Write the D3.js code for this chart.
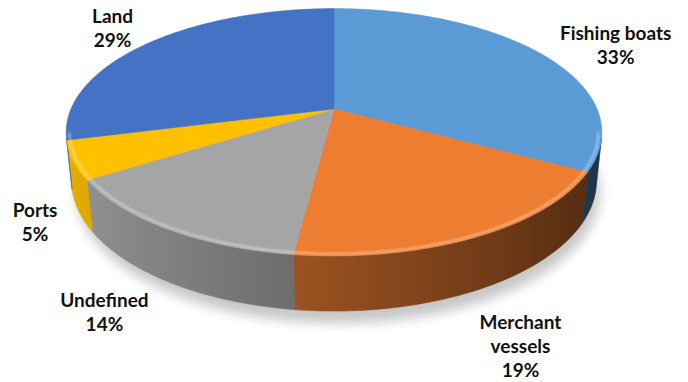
<!DOCTYPE html>
<html>
<head>
<meta charset="utf-8">
<script src="https://cdn.jsdelivr.net/npm/d3@7"></script>
<style>
  html, body { margin: 0; padding: 0; background: #ffffff; }
  svg { display: block; }
</style>
</head>
<body>
<svg id="chart" width="688" height="382"></svg>
<script>
// Incident locations by share of total
const categories = ["Fishing boats", "Merchant vessels", "Undefined", "Ports", "Land"];
const shares = [33, 19, 14, 5, 29];
const colors = ["#5B9BD5", "#ED7D31", "#A5A5A5", "#FFC000", "#4472C4"];
const labelLines = [["Fishing boats"], ["Merchant", "vessels"], ["Undefined"], ["Ports"], ["Land"]];

// Layout: label nudges relative to the rim point at each slice's mid-angle
const labelNudge = [[75, -14], [43, 92], [-62, 78], [-38, 57], [-35, -20]];

const W = 688, H = 382;
const svg = d3.select("#chart");

// Perspective camera looking down on a unit disc
const cx = 334, cy = 109;       // screen position of the disc centre
const sinT = 0.4536, cosT = Math.sqrt(1 - sinT * sinT);  // camera tilt
const dist = 4.74;              // camera distance (disc radii)
const focal = 1247;             // focal length in px
const thick = 0.208;            // disc thickness (disc radii)

// theta: clockwise from the far side, as d3.pie angles run; y: height (0 = top face)
function proj(theta, yw, r = 1) {
  const X = r * Math.sin(theta), Z = -r * Math.cos(theta);
  const depth = dist - yw * sinT - Z * cosT;
  const yc = yw * cosT - Z * sinT;
  return [cx + focal * X / depth, cy - focal * yc / depth];
}

const pie = d3.pie().sort(null).value(d => d).startAngle(0).endAngle(2 * Math.PI);
const arcs = pie(shares);

function arcPoints(a0, a1, yw, r = 1) {
  const n = Math.max(2, Math.ceil(Math.abs(a1 - a0) / (Math.PI / 180)));
  return d3.range(n + 1).map(i => proj(a0 + (a1 - a0) * i / n, yw, r));
}

const line = d3.line();
const defs = svg.append("defs");

defs.append("filter").attr("id", "shadowBlur")
  .attr("x", "-20%").attr("y", "-20%").attr("width", "140%").attr("height", "140%")
  .append("feGaussianBlur").attr("stdDeviation", 6);
defs.append("filter").attr("id", "softLine")
  .append("feGaussianBlur").attr("stdDeviation", 0.9);

// Drop shadow under the disc
svg.append("path")
  .attr("d", line(arcPoints(0, 2 * Math.PI, -thick - 0.02)) + "Z")
  .attr("transform", "translate(4,7)")
  .attr("fill", "#000")
  .attr("opacity", 0.22)
  .attr("filter", "url(#shadowBlur)");

// Outer wall: only the part facing the camera
const visLimit = Math.acos(-1 / (dist * cosT));
const visStart = visLimit, visEnd = 2 * Math.PI - visLimit;

function shade(theta) {
  // lighter towards the left, darker towards the right
  return Math.max(0.34, Math.min(0.92, 0.62 - 0.30 * Math.sin(theta)));
}

const sideG = svg.append("g");
arcs.forEach((a, i) => {
  const s = Math.max(a.startAngle, visStart);
  const e = Math.min(a.endAngle, visEnd);
  if (e <= s) return;
  const top = arcPoints(s, e, 0);
  const bot = arcPoints(e, s, -thick);
  const gid = "side" + i;
  const x0 = proj(s, 0)[0], x1 = proj(e, 0)[0];
  const grad = defs.append("linearGradient").attr("id", gid)
    .attr("gradientUnits", "userSpaceOnUse")
    .attr("x1", x0).attr("y1", 0).attr("x2", x1).attr("y2", 0);
  const base = d3.rgb(colors[i]);
  d3.range(9).forEach(k => {
    const t = s + (e - s) * k / 8;
    const x = proj(t, 0)[0];
    const f = shade(t);
    grad.append("stop")
      .attr("offset", x1 === x0 ? 0 : (x - x0) / (x1 - x0))
      .attr("stop-color", d3.rgb(base.r * f, base.g * f, base.b * f).formatHex());
  });
  sideG.append("path")
    .attr("d", line(top.concat(bot)) + "Z")
    .attr("fill", `url(#${gid})`)
    .attr("stroke", `url(#${gid})`)
    .attr("stroke-width", 0.6);
});

// Top face slices
const topG = svg.append("g");
arcs.forEach((a, i) => {
  const pts = [[cx, cy]].concat(arcPoints(a.startAngle, a.endAngle, 0));
  topG.append("path")
    .attr("d", line(pts) + "Z")
    .attr("fill", colors[i])
    .attr("stroke", colors[i])
    .attr("stroke-width", 0.5)
    .attr("stroke-linejoin", "round");
});

// Bevel highlight along the near rim
svg.append("path")
  .attr("d", line(arcPoints(visStart - 0.05, visEnd + 0.05, 0, 0.988)))
  .attr("fill", "none")
  .attr("stroke", "#ffffff")
  .attr("stroke-opacity", 0.45)
  .attr("stroke-width", 2)
  .attr("filter", "url(#softLine)");

// Data labels
const labelG = svg.append("g")
  .attr("font-family", "Lato, 'Open Sans', sans-serif")
  .attr("font-weight", 700)
  .attr("font-size", 19)
  .attr("fill", "#111")
  .attr("text-anchor", "middle");

arcs.forEach((a, i) => {
  const mid = (a.startAngle + a.endAngle) / 2;
  const p = proj(mid, 0);
  const x = p[0] + labelNudge[i][0];
  const y = p[1] + labelNudge[i][1];
  const lines = labelLines[i].concat([shares[i] + "%"]);
  const t = labelG.append("text").attr("x", x).attr("y", y);
  lines.forEach((ln, j) => {
    t.append("tspan").attr("x", x).attr("dy", j === 0 ? 0 : 24).text(ln);
  });
});
</script>
</body>
</html>
